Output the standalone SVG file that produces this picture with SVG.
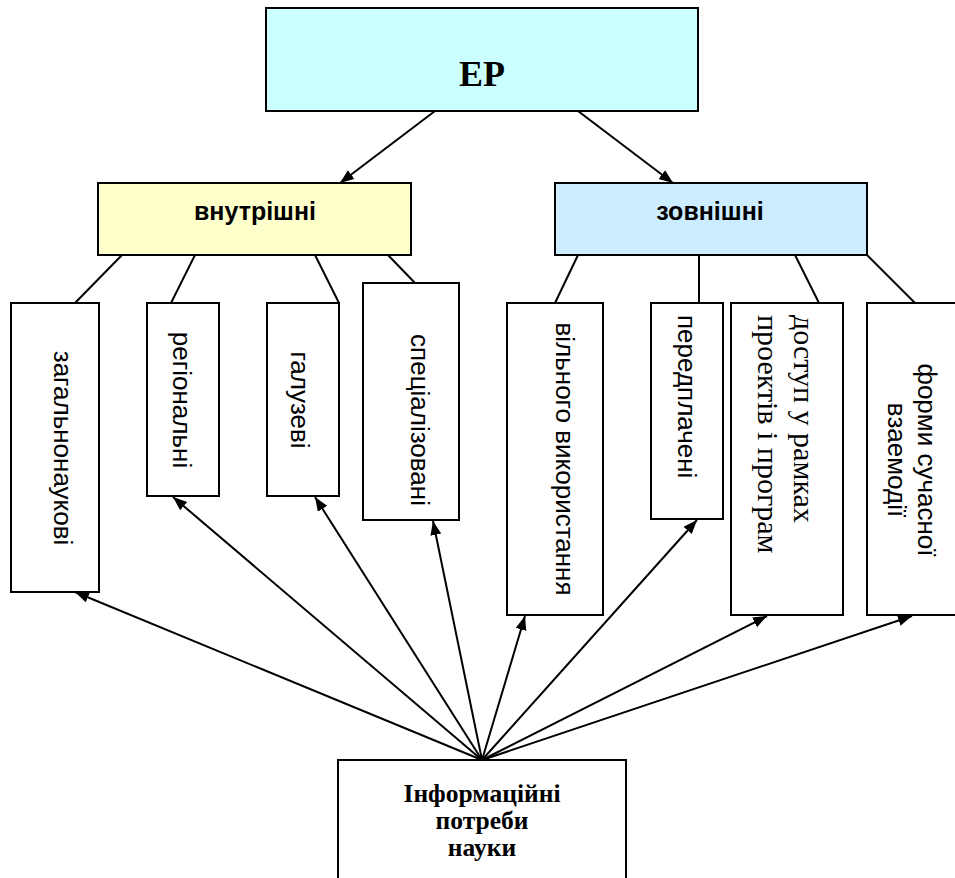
<svg xmlns="http://www.w3.org/2000/svg" width="955" height="878" viewBox="0 0 955 878">
<style>
.box{stroke:#000;stroke-width:2;fill:#fff}
.ln{stroke:#000;stroke-width:2;fill:none}
.arr{stroke:#000;stroke-width:2;fill:none;marker-end:url(#ah)}
.sans{font-family:"Liberation Sans",Arial,sans-serif;font-size:26px;fill:#000}
.hdr{font-family:"Liberation Sans",Arial,sans-serif;font-size:25px;font-weight:bold;fill:#000}
.serif{font-family:"Liberation Serif","Times New Roman",serif;font-size:30px;fill:#000}
.sb{font-family:"Liberation Serif","Times New Roman",serif;font-weight:bold;fill:#000}
</style>
<defs>
<marker id="ah" markerUnits="userSpaceOnUse" markerWidth="15" markerHeight="12" refX="14" refY="5.5" orient="auto">
<path d="M0,0 L14,5.5 L0,11 z" fill="#000"/>
</marker>
</defs>
<g id="connectors">
<line class="arr" x1="435" y1="111" x2="340" y2="183"/>
<line class="arr" x1="578" y1="111" x2="673" y2="183"/>
<line class="ln" x1="122" y1="255" x2="75" y2="303"/>
<line class="ln" x1="195" y1="255" x2="171" y2="303"/>
<line class="ln" x1="315" y1="255" x2="339" y2="303"/>
<line class="ln" x1="388" y1="255" x2="415" y2="283"/>
<line class="ln" x1="578" y1="255" x2="555" y2="303"/>
<line class="ln" x1="699" y1="255" x2="699" y2="303"/>
<line class="ln" x1="795" y1="255" x2="819" y2="303"/>
<line class="ln" x1="867" y1="255" x2="915" y2="303"/>
<line class="arr" x1="482" y1="760" x2="75" y2="592"/>
<line class="arr" x1="482" y1="760" x2="173" y2="497"/>
<line class="arr" x1="482" y1="760" x2="315" y2="497"/>
<line class="arr" x1="482" y1="760" x2="433" y2="521"/>
<line class="arr" x1="482" y1="760" x2="525" y2="616"/>
<line class="arr" x1="482" y1="760" x2="697" y2="520"/>
<line class="arr" x1="482" y1="760" x2="767" y2="616"/>
<line class="arr" x1="482" y1="760" x2="912" y2="616"/>
</g>
<g id="ep">
<rect class="box" x="266" y="8" width="432" height="103" style="fill:#CCFFFF"/>
<text class="sb" x="482" y="86" font-size="36" text-anchor="middle">ЕР</text>
</g>
<g id="vnutrishni">
<rect class="box" x="98" y="183" width="313" height="72" style="fill:#FFFFCC"/>
<text class="hdr" x="255" y="220" text-anchor="middle">внутрішні</text>
</g>
<g id="zovnishni">
<rect class="box" x="555" y="183" width="312" height="72" style="fill:#CCECFF"/>
<text class="hdr" x="710" y="220" text-anchor="middle">зовнішні</text>
</g>
<g id="zagalnonaukovi">
<rect class="box" x="11" y="303" width="88" height="289"/>
<text class="sans" transform="translate(54,448) rotate(90)" text-anchor="middle">загальнонаукові</text>
</g>
<g id="regionalni">
<rect class="box" x="147" y="303" width="72" height="193"/>
<text class="sans" transform="translate(173,400) rotate(90)" text-anchor="middle">регіональні</text>
</g>
<g id="galuzevi">
<rect class="box" x="267" y="303" width="72" height="193"/>
<text class="sans" transform="translate(291,400) rotate(90)" text-anchor="middle">галузеві</text>
</g>
<g id="spetsializovani">
<rect class="box" x="363" y="283" width="96" height="237"/>
<text class="sans" transform="translate(411,420) rotate(90)" text-anchor="middle">спеціалізовані</text>
</g>
<g id="vilnogo">
<rect class="box" x="507" y="303" width="96" height="312"/>
<text class="sans" transform="translate(556,459) rotate(90)" text-anchor="middle">вільного використання</text>
</g>
<g id="peredplacheni">
<rect class="box" x="651" y="303" width="72" height="216"/>
<text class="sans" transform="translate(678,315) rotate(90)">передплачені</text>
</g>
<g id="dostup">
<rect class="box" x="731" y="303" width="112" height="312"/>
<text class="serif" transform="translate(793.5,315) rotate(90)">доступ у рамках</text>
<text class="serif" transform="translate(757.5,315) rotate(90)">проектів і програм</text>
</g>
<g id="formy">
<rect class="box" x="867" y="303" width="95" height="312"/>
<text class="sans" transform="translate(917.5,460) rotate(90)" text-anchor="middle">форми сучасної</text>
<text class="sans" transform="translate(888,460) rotate(90)" text-anchor="middle">взаемодії</text>
</g>
<g id="potreby">
<rect class="box" x="338" y="760" width="288" height="130"/>
<text class="sb" x="482" y="802" font-size="25.5" text-anchor="middle">Інформаційні</text>
<text class="sb" x="482" y="829" font-size="25.5" text-anchor="middle">потреби</text>
<text class="sb" x="482" y="856" font-size="25.5" text-anchor="middle">науки</text>
</g>
</svg>
